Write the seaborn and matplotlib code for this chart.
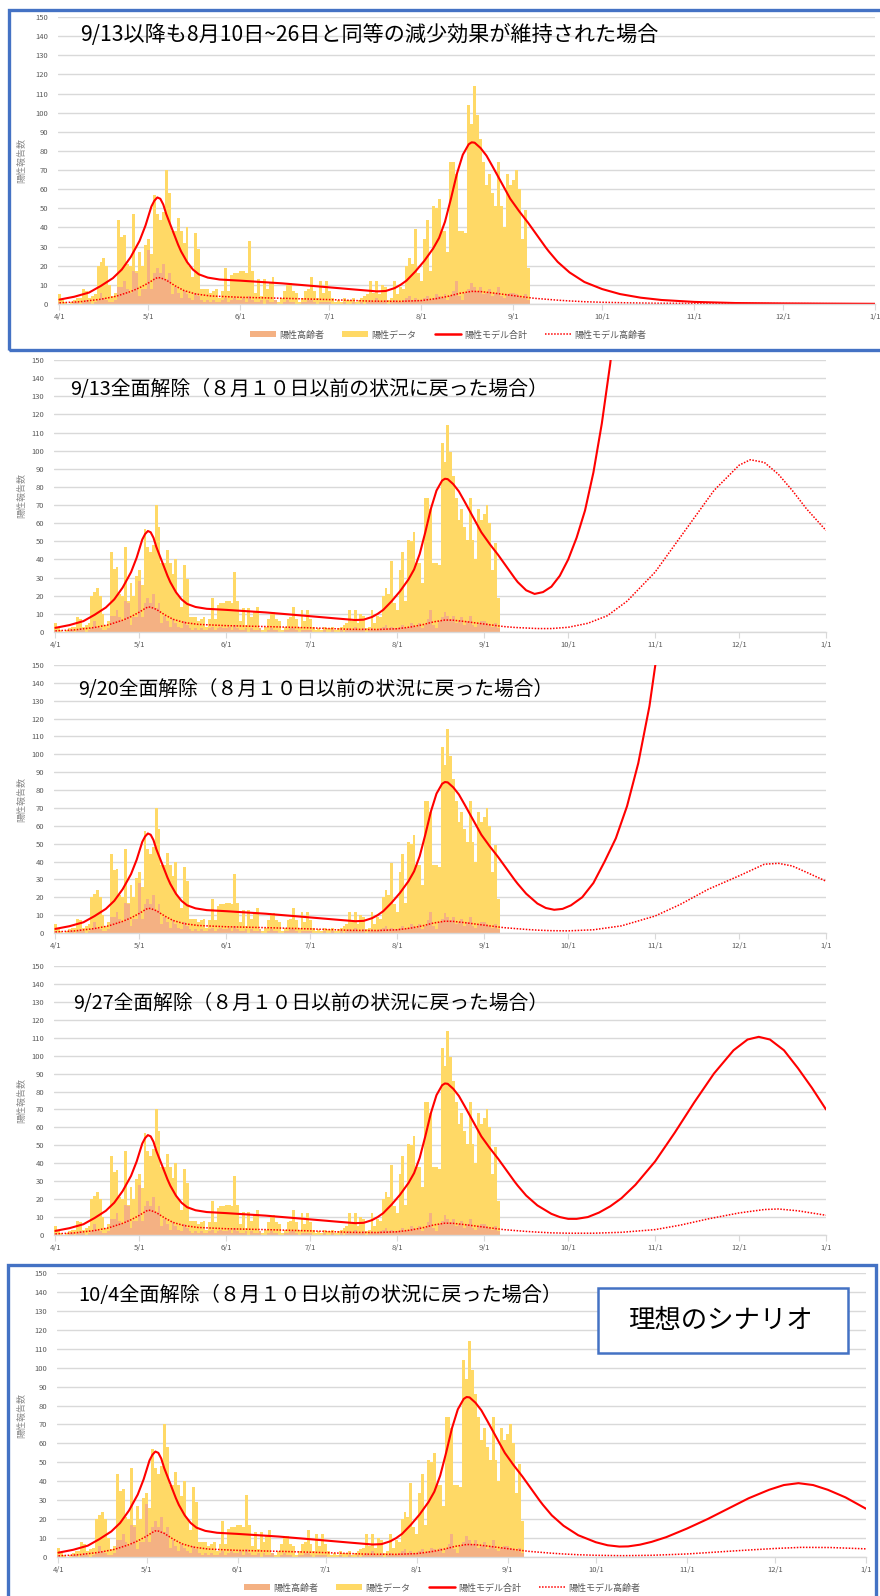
import matplotlib
matplotlib.use("Agg")
import matplotlib.pyplot as plt
from matplotlib.patches import Rectangle, Patch
from matplotlib.lines import Line2D
import numpy as np
import pandas as pd
import seaborn as sns

# ---------------------------------------------------------------
# Daily positive reports (all ages), 4/1 - 9/6
total_apr = [5, 2, 1, 0, 1, 2, 3, 3, 8, 7, 3, 4, 5, 20, 22, 24, 20, 10, 4, 6,
             44, 35, 36, 21, 20, 47, 17, 27, 20, 31]
total_may = [34, 26, 57, 47, 44, 48, 70, 58, 38, 38, 45, 38, 32, 40, 20, 14, 37, 29, 8, 8,
             8, 6, 7, 8, 3, 7, 19, 7, 15, 16, 16]
total_jun = [17, 17, 16, 33, 17, 6, 13, 4, 13, 8, 11, 14, 2, 1, 3, 7, 10, 11, 7, 6,
             1, 3, 7, 8, 14, 7, 3, 12, 6, 12]
total_jul = [7, 3, 1, 2, 1, 3, 2, 2, 3, 1, 2, 3, 4, 5, 12, 6, 12, 5, 10, 9,
             2, 3, 12, 5, 9, 8, 20, 24, 21, 39, 16]
total_aug = [12, 34, 44, 17, 51, 50, 55, 38, 38, 27, 74, 74, 68, 38, 38, 37, 104, 94, 114, 99,
             86, 74, 62, 68, 58, 51, 74, 51, 40, 68, 62]
total_sep = [65, 70, 60, 34, 49, 19]

# Daily positive reports among the elderly, same days
elderly_apr = [1, 0, 0, 0, 0, 1, 1, 0, 1, 2, 1, 0, 1, 2, 6, 3, 2, 1, 1, 2,
               9, 9, 12, 8, 6, 17, 16, 4, 8, 8]
elderly_may = [28, 8, 16, 19, 16, 21, 13, 16, 5, 9, 6, 3, 7, 5, 3, 2, 6, 4, 2, 1,
               2, 1, 2, 1, 1, 2, 3, 1, 2, 3, 2]
elderly_jun = [2, 3, 1, 4, 2, 1, 1, 2, 0, 2, 1, 1, 2, 0, 0, 1, 2, 1, 1, 0,
               0, 1, 1, 2, 2, 1, 0, 1, 1, 1]
elderly_jul = [1, 0, 0, 0, 0, 1, 0, 0, 1, 0, 0, 1, 0, 1, 2, 1, 3, 1, 1, 2,
               0, 1, 2, 1, 1, 2, 3, 4, 2, 3, 2]
elderly_aug = [2, 3, 4, 2, 3, 5, 4, 3, 5, 2, 4, 7, 12, 4, 2, 6, 8, 11, 9, 7,
               9, 5, 6, 8, 4, 6, 9, 4, 3, 5, 6]
elderly_sep = [6, 5, 4, 3, 5, 2]

# Model: total positives, common part up to 9/12
base_total_dates = ["4/1", "4/6", "4/11", "4/15", "4/19", "4/22", "4/25", "4/28", "4/30",
                    "5/1", "5/2", "5/3", "5/4", "5/5", "5/6", "5/7", "5/8", "5/9", "5/10",
                    "5/11", "5/12", "5/14", "5/16", "5/18", "5/21", "5/25", "6/1", "6/15",
                    "7/1", "7/10", "7/17", "7/20", "7/23", "7/25", "7/27", "7/30", "8/2",
                    "8/5", "8/7", "8/9", "8/11", "8/13", "8/15", "8/17", "8/18", "8/19",
                    "8/21", "8/23", "8/25", "8/28", "8/31", "9/3", "9/6", "9/9", "9/12"]
base_total = [2.3, 3.8, 6, 9.5, 13.5, 18, 24.5, 33, 41,
              46, 51, 54, 55.7, 55, 52, 47, 43, 39, 35,
              31, 27.5, 22, 18, 15.5, 13.8, 12.8, 12.2, 10.8,
              8.7, 7.5, 6.6, 6.8, 8.3, 10, 12.2, 17, 22.5,
              29, 34.5, 43, 55, 68, 78, 83.5, 84.5, 84.3,
              81.5, 77.5, 72, 63.5, 55, 48.5, 42.5, 36, 29.5]

# Model: elderly positives, common part up to 9/12
base_elderly_dates = ["4/1", "4/8", "4/15", "4/20", "4/25", "4/28", "5/1", "5/3", "5/4", "5/5",
                      "5/7", "5/10", "5/13", "5/17", "5/22", "6/1", "6/15", "7/1", "7/15",
                      "7/25", "8/1", "8/6", "8/10", "8/14", "8/18", "8/21", "8/25", "8/30",
                      "9/4", "9/8", "9/12"]
base_elderly = [0.6, 1.2, 2.5, 4, 6.5, 8.5, 11, 13, 13.8, 13.7,
                12.5, 9.5, 7, 5.2, 4.2, 3.5, 3.0, 2.3, 1.5,
                1.4, 1.8, 2.8, 4, 5.6, 6.6, 6.5, 5.8, 4.8,
                3.8, 3.0, 2.5]

# Scenario 1: the 8/10-8/26 reduction continues after 9/13
s1_total_dates = ["9/13", "9/16", "9/20", "9/25", "10/1", "10/7", "10/14", "10/21", "11/1",
                  "11/15", "12/1", "12/15", "1/1"]
s1_total = [27.5, 22, 16.5, 11.5, 7.8, 5.2, 3.3, 2.1, 1.1, 0.5, 0.3, 0.2, 0.1]
s1_elderly_dates = ["9/16", "9/20", "9/25", "10/1", "10/10", "10/20", "11/1", "12/1", "1/1"]
s1_elderly = [2.0, 1.6, 1.2, 0.9, 0.6, 0.4, 0.3, 0.2, 0.1]

# Scenario 2: full release on 9/13
s2_total_dates = ["9/13", "9/16", "9/19", "9/22", "9/25", "9/28", "10/1", "10/4", "10/7",
                  "10/10", "10/13", "10/16", "10/18"]
s2_total = [27.5, 23, 21, 22, 25, 31, 40, 52, 67, 88, 115, 148, 175]
s2_elderly_dates = ["9/16", "9/20", "9/25", "10/1", "10/8", "10/15", "10/22", "11/1", "11/8",
                    "11/15", "11/22", "12/1", "12/5", "12/10", "12/15", "12/20", "12/25", "1/1"]
s2_elderly = [2.2, 1.9, 1.9, 2.6, 4.8, 9, 17, 33, 48, 63, 78, 92, 95, 93.5, 87, 78, 68, 56]

# Scenario 3: full release on 9/20
s3_total_dates = ["9/13", "9/16", "9/20", "9/23", "9/26", "9/29", "10/2", "10/6", "10/10",
                  "10/14", "10/18", "10/22", "10/26", "10/30", "11/2"]
s3_total = [27.5, 22, 16.5, 14, 13, 13.5, 15.5, 20, 28, 40, 53, 71, 95, 127, 160]
s3_elderly_dates = ["9/16", "9/20", "9/25", "10/1", "10/10", "10/20", "11/1", "11/10", "11/20",
                    "12/1", "12/10", "12/15", "12/20", "12/25", "1/1"]
s3_elderly = [2.0, 1.6, 1.3, 1.2, 1.8, 4, 9.5, 16, 24.5, 32, 38.5, 39, 37.5, 34, 29]

# Scenario 4: full release on 9/27
s4_total_dates = ["9/13", "9/16", "9/20", "9/25", "9/28", "10/1", "10/4", "10/8", "10/12",
                  "10/16", "10/20", "10/25", "11/1", "11/8", "11/15", "11/22", "11/29",
                  "12/4", "12/8", "12/12", "12/17", "12/22", "12/27", "1/1"]
s4_total = [27.5, 22, 16.5, 11.8, 10, 9, 9, 10, 12.5, 16, 20.5, 28, 41, 57, 74, 90, 103,
            109, 110.5, 109, 103, 93, 82, 70]
s4_elderly_dates = ["9/16", "9/20", "9/25", "10/1", "10/10", "10/20", "11/1", "11/10", "11/20",
                    "12/1", "12/10", "12/15", "12/22", "1/1"]
s4_elderly = [2.0, 1.6, 1.2, 1.0, 1.0, 1.5, 3, 5.5, 9, 12.3, 14.2, 14.5, 13.5, 11]

# Scenario 5: full release on 10/4
s5_total_dates = ["9/13", "9/16", "9/20", "9/25", "10/1", "10/5", "10/9", "10/12", "10/16",
                  "10/20", "10/25", "11/1", "11/8", "11/15", "11/22", "11/29", "12/4", "12/9",
                  "12/14", "12/19", "12/25", "1/1"]
s5_total = [27.5, 22, 16.5, 11.5, 7.8, 6.2, 5.5, 5.6, 6.5, 8, 10.5, 15, 20, 25.5, 31, 35.5,
            38, 39, 38, 35.5, 31.5, 25.5]
s5_elderly_dates = ["9/16", "9/20", "9/25", "10/1", "10/10", "10/20", "11/1", "11/10", "11/20",
                    "12/1", "12/10", "12/20", "1/1"]
s5_elderly = [2.0, 1.6, 1.2, 0.9, 0.7, 0.9, 1.6, 2.5, 3.5, 4.5, 5.1, 5.0, 4.3]

titles = ["9/13以降も8月10日~26日と同等の減少効果が維持された場合",
          "9/13全面解除（８月１０日以前の状況に戻った場合）",
          "9/20全面解除（８月１０日以前の状況に戻った場合）",
          "9/27全面解除（８月１０日以前の状況に戻った場合）",
          "10/4全面解除（８月１０日以前の状況に戻った場合）"]
month_labels = ["4/1", "5/1", "6/1", "7/1", "8/1", "9/1", "10/1", "11/1", "12/1", "1/1"]
legend_labels = ["陽性高齢者", "陽性データ", "陽性モデル合計", "陽性モデル高齢者"]
y_title = "陽性報告数"
note_text = "理想のシナリオ"

# ---------------------------------------------------------------
sns.set_theme(style="white")
plt.rcParams["font.family"] = ["Noto Sans CJK JP", "DejaVu Sans"]

YELLOW = "#FFD966"
ORANGE = "#F4B183"
RED = "#FF0000"
BLUE = "#4472C4"
GRID = "#D9D9D9"
TICK = "#595959"

START = pd.Timestamp("2021-04-01")


def day_of(md):
    m, d = (int(v) for v in md.split("/"))
    year = 2022 if m < 4 else 2021
    return (pd.Timestamp(year, m, d) - START).days


total_daily = np.array(total_apr + total_may + total_jun + total_jul + total_aug + total_sep)
elderly_daily = np.array(elderly_apr + elderly_may + elderly_jun + elderly_jul + elderly_aug
                         + elderly_sep)
bar_days = np.arange(len(total_daily))
month_pos = [day_of(m) for m in month_labels]

W, H = 880, 1596
fig = plt.figure(figsize=(W / 100, H / 100), dpi=100)
fig.patch.set_facecolor("white")


def px_axes(left, right, top, bottom):
    return fig.add_axes([left / W, 1 - bottom / H, (right - left) / W, (bottom - top) / H])


def fig_xy(x, y):
    return x / W, 1 - y / H


def draw_panel(ax, t_dates, t_vals, e_dates, e_vals):
    sns.barplot(x=bar_days, y=total_daily, native_scale=True, width=1.0, color=YELLOW,
                saturation=1, errorbar=None, edgecolor="none", linewidth=0, ax=ax)
    sns.barplot(x=bar_days, y=elderly_daily, native_scale=True, width=1.0, color=ORANGE,
                saturation=1, errorbar=None, edgecolor="none", linewidth=0, ax=ax)
    tx = [day_of(d) for d in base_total_dates + t_dates]
    ty = base_total + t_vals
    sns.lineplot(x=tx, y=ty, color=RED, linewidth=1.5, sort=False, ax=ax)
    ex = [day_of(d) for d in base_elderly_dates + e_dates]
    ey = base_elderly + e_vals
    sns.lineplot(x=ex, y=ey, color=RED, linewidth=1.1, linestyle=(0, (1, 1)), sort=False, ax=ax)

    ax.set_xlim(-0.5, 275)
    ax.set_ylim(0, 150)
    ax.set_xlabel("")
    ax.set_ylabel("")
    ax.set_yticks(range(0, 151, 10))
    ax.set_xticks(month_pos, month_labels)
    ax.tick_params(axis="y", length=0, pad=7, labelsize=5.5, labelcolor=TICK)
    ax.tick_params(axis="x", length=4, width=0.8, color=GRID, pad=2.5, labelsize=5.5,
                   labelcolor=TICK, bottom=True)
    ax.grid(axis="y", color=GRID, linewidth=1.0)
    ax.grid(axis="x", visible=False)
    ax.set_axisbelow(True)
    for side in ["top", "right", "left"]:
        ax.spines[side].set_visible(False)
    ax.spines["bottom"].set_color(GRID)
    ax.spines["bottom"].set_linewidth(1.0)
    ax.set_facecolor("none")


def add_legend(ax, cx, cy):
    handles = [Patch(facecolor=ORANGE, edgecolor="none"),
               Patch(facecolor=YELLOW, edgecolor="none"),
               Line2D([], [], color=RED, linewidth=1.8),
               Line2D([], [], color=RED, linewidth=1.1, linestyle=(0, (1, 1)))]
    ax.legend(handles, legend_labels, loc="center", bbox_to_anchor=fig_xy(cx, cy),
              bbox_transform=fig.transFigure, ncol=4, frameon=False, fontsize=6.5,
              labelcolor=TICK, handlelength=2.9, handleheight=0.6, handletextpad=0.35,
              columnspacing=2.0)


# panel layout in pixels: left, right, top, bottom of plot area
layout = [(58, 875, 17, 304), (54, 826, 360, 632), (54, 826, 665, 933),
          (54, 826, 966, 1235), (57, 866, 1273, 1557)]
title_pos = [(80, 35, 15.2), (70, 389, 14.3), (78, 690, 14.2), (73, 1003, 14.2),
             (78, 1296, 14.5)]
scenarios = [(s1_total_dates, s1_total, s1_elderly_dates, s1_elderly),
             (s2_total_dates, s2_total, s2_elderly_dates, s2_elderly),
             (s3_total_dates, s3_total, s3_elderly_dates, s3_elderly),
             (s4_total_dates, s4_total, s4_elderly_dates, s4_elderly),
             (s5_total_dates, s5_total, s5_elderly_dates, s5_elderly)]

axes = []
for (l, r, t, b), (tx, ty, tsize), title, sc in zip(layout, title_pos, titles, scenarios):
    ax = px_axes(l, r, t, b)
    draw_panel(ax, *sc)
    axes.append(ax)
    fig.text(*fig_xy(tx, ty), title, fontsize=tsize, ha="left", va="center", color="black")
    fig.text(*fig_xy(22, (t + b) / 2), y_title, rotation=90, fontsize=6.5, color="#8C8C8C",
             ha="center", va="center")

add_legend(axes[0], 448, 335)
add_legend(axes[4], 442, 1588)

# frames around the first and last scenario
x0, y0 = fig_xy(9, 350)
fig.add_artist(Rectangle((x0, y0), (885 - 9) / W, (350 - 10) / H, transform=fig.transFigure,
                         fill=False, edgecolor=BLUE, linewidth=2.4, zorder=5))
x0, y0 = fig_xy(8, 1605)
fig.add_artist(Rectangle((x0, y0), (876 - 8) / W, (1605 - 1265) / H, transform=fig.transFigure,
                         fill=False, edgecolor=BLUE, linewidth=2.4, zorder=5))

# note box
x0, y0 = fig_xy(598, 1353)
fig.add_artist(Rectangle((x0, y0), (848 - 598) / W, (1353 - 1288) / H, transform=fig.transFigure,
                         facecolor="white", edgecolor=BLUE, linewidth=1.8, zorder=6))
fig.text(*fig_xy(720, 1320), note_text, fontsize=19, ha="center", va="center", color="black",
         zorder=7)

fig.savefig("out.png", dpi=100, facecolor="white")
